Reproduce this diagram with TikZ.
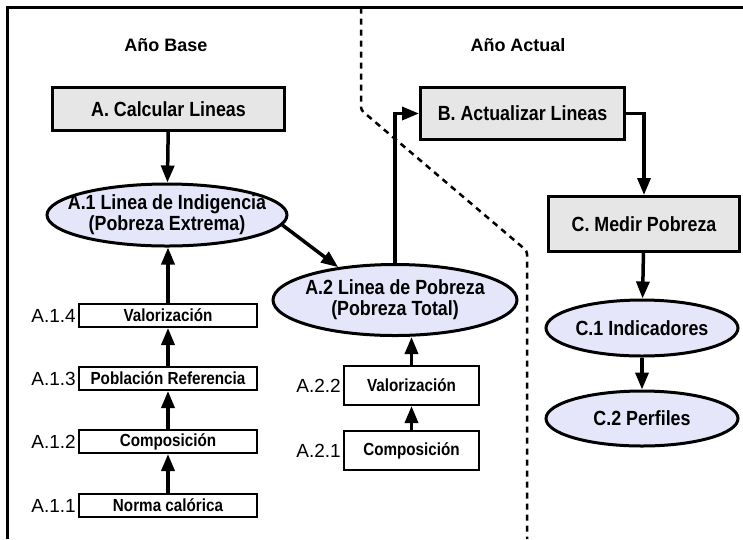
\documentclass[tikz,border=0pt]{standalone}
\usepackage{fontspec}
\setmainfont{Liberation Sans}
\newfontfamily\estrecha{Liberation Sans}[FakeStretch=0.87]
\usetikzlibrary{arrows.meta,shapes.geometric}

\definecolor{boxgray}{RGB}{230,230,230}
\definecolor{ovalblue}{RGB}{230,230,250}

\tikzset{
  etapa/.style={draw,line width=3pt,fill=boxgray,inner sep=0pt,font=\estrecha\bfseries\fontsize{20.5}{21}\selectfont},
  linea/.style={ellipse,draw,line width=3pt,fill=ovalblue,align=center,inner xsep=-20pt,inner ysep=0pt,font=\estrecha\bfseries\fontsize{20.5}{21}\selectfont},
  paso/.style={draw,line width=2pt,fill=white,inner sep=0pt,minimum width=178pt,minimum height=23pt,font=\estrecha\bfseries\fontsize{17.5}{18}\selectfont},
  codigo/.style={anchor=east,inner sep=2pt,font=\fontsize{19}{21}\selectfont},
  titulo/.style={font=\bfseries\fontsize{18}{21}\selectfont},
  flecha/.style={line width=3.5pt,-{Triangle[length=17pt,width=13pt]}},
  divisoria/.style={line width=2.5pt,dash pattern=on 6pt off 5pt,rounded corners=3pt},
}

\begin{document}
\begin{tikzpicture}[x=1pt,y=1pt,yscale=-1]
\useasboundingbox (0,0) rectangle (743,539);
% Frame
\draw[line width=2.5pt] (7.5,539) -- (7.5,7.5) -- (743,7.5);
% Divider
\draw[divisoria] (361,7.5) -- (361,110) -- (527,251) -- (527,539);
% Titles
\node[titulo] (base) at (166,45) {Año Base};
\node[titulo] (actual) at (518,45) {Año Actual};
% Stages
\node[etapa,minimum width=232pt,minimum height=43pt] (calc) at (168.5,109) {A. Calcular Lineas};
\node[etapa,minimum width=204pt,minimum height=52pt] (actu) at (522.5,113.5) {B. Actualizar Lineas};
\node[etapa,minimum width=191pt,minimum height=55pt] (medir) at (644,224) {C. Medir Pobreza};
% Lines
\node[linea,minimum width=240pt,minimum height=62pt] (indig) at (167,215) {A.1 Linea de Indigencia\\(Pobreza Extrema)};
\node[linea,minimum width=244pt,minimum height=71pt] (pobre) at (395,300) {A.2 Linea de Pobreza\\(Pobreza Total)};
\node[linea,minimum width=192pt,minimum height=56pt] (indic) at (642,328) {C.1 Indicadores};
\node[linea,minimum width=192pt,minimum height=55pt] (perf) at (642,418.5) {C.2 Perfiles};
% Steps A.1
\node[paso] (valor) at (168,315.5) {Valorización};
\node[paso] (pobla) at (168,378.5) {Población Referencia};
\node[paso] (compo) at (168,441.5) {Composición};
\node[paso] (norma) at (168,505.5) {Norma calórica};
\node[codigo] (c114) at (valor.west) {A.1.4};
\node[codigo] (c113) at (pobla.west) {A.1.3};
\node[codigo] (c112) at (compo.west) {A.1.2};
\node[codigo] (c111) at (norma.west) {A.1.1};
% Steps A.2
\node[paso,minimum width=135pt,minimum height=39pt] (valordos) at (411.5,385.5) {Valorización};
\node[paso,minimum width=135pt,minimum height=39pt] (compodos) at (411.5,450.5) {Composición};
\node[codigo] (c222) at (valordos.west) {A.2.2};
\node[codigo] (c221) at (compodos.west) {A.2.1};
% Arrows
\draw[flecha] (calc) -- (indig);
\draw[flecha] (indig.-5) -- (pobre.150);
\draw[flecha] (pobre.north) |- (actu.west);
\draw[flecha] (actu.east) -| (medir.north);
\draw[flecha] (medir) -- (indic);
\draw[flecha] (indic) -- (perf);
\draw[flecha] (norma) -- (compo);
\draw[flecha] (compo) -- (pobla);
\draw[flecha] (pobla) -- (valor);
\draw[flecha] (valor.north) -- (valor.north |- indig.south);
\draw[flecha] (compodos) -- (valordos);
\draw[flecha] (valordos.north) -- (valordos.north |- pobre.south);
\end{tikzpicture}
\end{document}
